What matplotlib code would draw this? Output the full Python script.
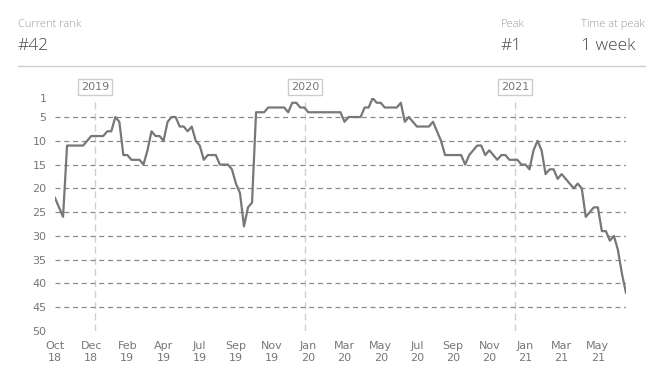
import matplotlib.pyplot as plt
import numpy as np

# weekly chart position, first week 2018-10-23
start = np.datetime64('2018-10-23')
ranks = [22, 24, 26, 11, 11, 11, 11, 11, 10, 9,
         9, 9, 9, 8, 8, 5, 6, 13, 13, 14,
         14, 14, 15, 12, 8, 9, 9, 10, 6, 5,
         5, 7, 7, 8, 7, 10, 11, 14, 13, 13,
         13, 15, 15, 15, 16, 19, 21, 28, 24, 23,
         4, 4, 4, 3, 3, 3, 3, 3, 4, 2,
         2, 3, 3, 4, 4, 4, 4, 4, 4, 4,
         4, 4, 6, 5, 5, 5, 5, 3, 3, 1,
         2, 2, 3, 3, 3, 3, 2, 6, 5, 6,
         7, 7, 7, 7, 6, 8, 10, 13, 13, 13,
         13, 13, 15, 13, 12, 11, 11, 13, 12, 13,
         14, 13, 13, 14, 14, 14, 15, 15, 16, 12,
         10, 12, 17, 16, 16, 18, 17, 18, 19, 20,
         19, 20, 26, 25, 24, 24, 29, 29, 31, 30,
         33, 38, 42]
y_ticks = [1, 5, 10, 15, 20, 25, 30, 35, 40, 45, 50]
grid_ranks = [5, 10, 15, 20, 25, 30, 35, 40, 45]
years = ['2019', '2020', '2021']

current_rank = '#42'
peak = '#1'
time_at_peak = '1 week'

dates = start + np.arange(len(ranks)) * np.timedelta64(7, 'D')

fig = plt.figure(figsize=(6.61, 3.88), dpi=100)
W, H = 661, 388

# header
hdr = dict(family='Open Sans', weight='light', transform=fig.transFigure)
fig.text(18 / W, 1 - 27 / H, 'Current rank', fontsize=8, color='#9a9a9a', **hdr)
fig.text(18 / W, 1 - 49.5 / H, current_rank, fontsize=12.5, color='#444444', **hdr)
fig.text(501 / W, 1 - 27 / H, 'Peak', fontsize=8, color='#9a9a9a', **hdr)
fig.text(501 / W, 1 - 49.5 / H, peak, fontsize=12.5, color='#444444', **hdr)
fig.text(581 / W, 1 - 27 / H, 'Time at peak', fontsize=8, color='#9a9a9a', **hdr)
fig.text(581 / W, 1 - 49.5 / H, time_at_peak, fontsize=12.5, color='#444444', **hdr)
fig.add_artist(plt.Line2D([18 / W, 645 / W], [1 - 66 / H, 1 - 66 / H],
                          color='#cccccc', lw=1))

ax = fig.add_axes([55 / W, 1 - 331 / H, (626 - 55) / W, (331 - 98) / H])

for r in grid_ranks:
    ax.axhline(r, color='#8a8a8a', lw=0.9, ls=(0, (4, 3)), zorder=1)

for yr in years:
    d = np.datetime64(yr + '-01-01')
    ax.axvline(d, color='#cfcfcf', lw=1, ls=(0, (5, 3)), zorder=0)
    ax.text(d, 1.047, yr, transform=ax.get_xaxis_transform(), ha='center', va='center',
            fontsize=8, color='#777777', zorder=5,
            bbox=dict(boxstyle='square,pad=0.25', fc='white', ec='#cccccc', lw=1))

ax.plot(dates, ranks, color='#777777', lw=1.6, zorder=3)

ax.set_xlim(dates[0], dates[-1])
ax.set_ylim(50, 1)
ax.set_yticks(y_ticks)
ax.set_yticklabels([str(v) for v in y_ticks])
tick_dates = dates[::9]
ax.set_xticks(tick_dates)
ax.set_xticklabels([d.astype(object).strftime('%b\n%y') for d in tick_dates])
ax.tick_params(length=0, labelsize=8, labelcolor='#777777')
ax.tick_params(axis='y', pad=6)
ax.tick_params(axis='x', pad=7)
for lbl in ax.get_xticklabels():
    lbl.set_linespacing(1.3)
for s in ax.spines.values():
    s.set_visible(False)

fig.savefig('out.png', dpi=100)
